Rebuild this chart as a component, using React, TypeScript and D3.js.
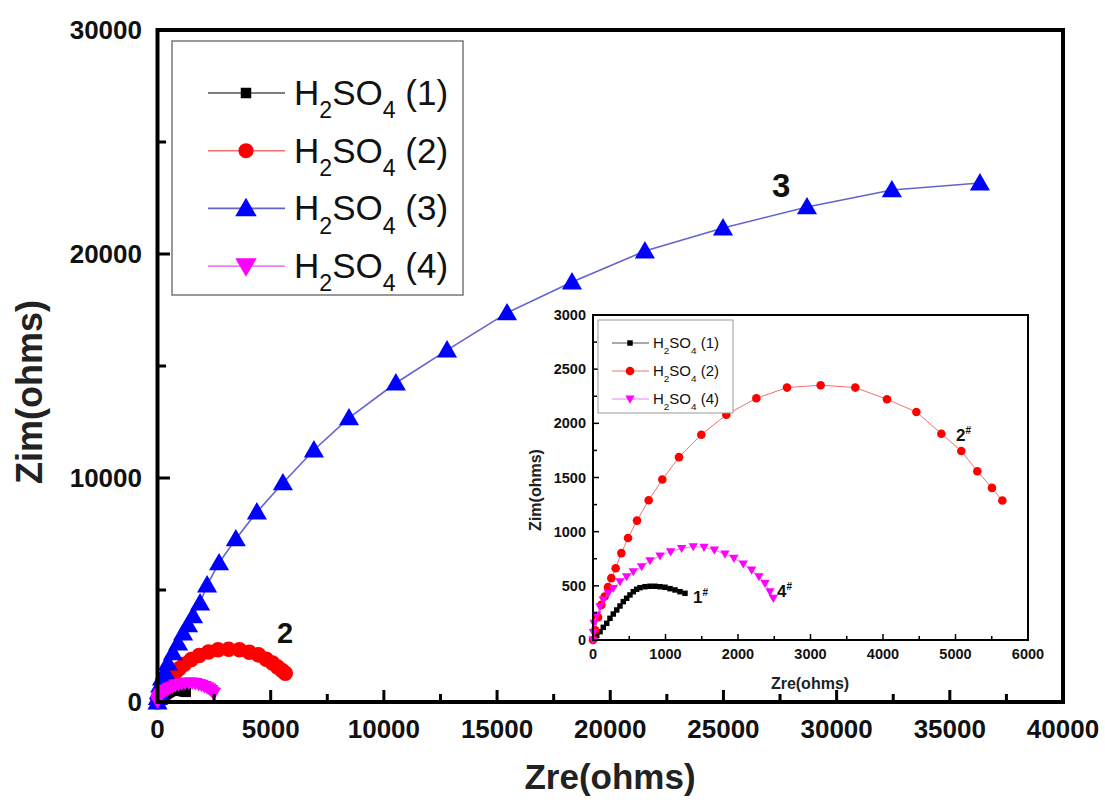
import React from "react";
import * as d3 from "d3";

// ---- data (ohms) ----
const s1X = [0, 14, 51, 97, 142, 189, 234, 280, 327, 372, 418, 464, 510, 556, 602, 648, 717, 786, 855, 924, 993, 1062, 1131, 1200, 1269];
const s1Y = [0, 9, 40, 77, 117, 154, 200, 240, 277, 314, 354, 385, 416, 446, 468, 483, 492, 496, 496, 492, 487, 474, 462, 446, 431];

const s2X = [0, 30, 70, 115, 161, 207, 253, 313, 391, 483, 607, 768, 956, 1186, 1494, 1839, 2253, 2676, 3140, 3618, 4055, 4460, 4805, 5080, 5301, 5503, 5646];
const s2Y = [0, 90, 210, 324, 401, 488, 571, 663, 802, 941, 1102, 1290, 1481, 1688, 1895, 2080, 2231, 2330, 2352, 2330, 2222, 2105, 1904, 1744, 1558, 1404, 1287];

const s3X = [0, 20, 60, 120, 200, 330, 460, 680, 910, 1130, 1350, 1570, 1880, 2190, 2720, 3460, 4390, 5540, 6910, 8460, 10530, 12790, 15440, 18310, 21530, 24980, 28690, 32440, 36330];
const s3Y = [0, 200, 450, 750, 1070, 1340, 1740, 2190, 2630, 3080, 3440, 3840, 4420, 5220, 6210, 7280, 8480, 9780, 11250, 12680, 14240, 15710, 17370, 18750, 20130, 21160, 22100, 22860, 23170];

const s4X = [0, 5, 14, 51, 97, 142, 211, 280, 372, 464, 556, 671, 786, 924, 1071, 1223, 1383, 1531, 1673, 1820, 1944, 2073, 2188, 2289, 2372, 2441, 2487];
const s4Y = [0, 70, 154, 231, 308, 369, 431, 477, 539, 585, 631, 677, 733, 776, 815, 846, 862, 856, 831, 794, 754, 702, 646, 585, 523, 446, 385];

const mainXTicks = [0, 5000, 10000, 15000, 20000, 25000, 30000, 35000, 40000];
const mainYTicks = [0, 10000, 20000, 30000];
const insetXTicks = [0, 1000, 2000, 3000, 4000, 5000, 6000];
const insetYTicks = [0, 500, 1000, 1500, 2000, 2500, 3000];

const seriesNames = ["(1)", "(2)", "(3)", "(4)"];

const FONT = "Arial, 'Liberation Sans', Helvetica, sans-serif";

type Ser = { xs: number[]; ys: number[]; kind: string; fill: string; line: string; mainSize: number; insetSize: number; name: string; inInset: boolean };

const series: Ser[] = [
  { xs: s1X, ys: s1Y, kind: "square", fill: "#000000", line: "#555555", mainSize: 90, insetSize: 30, name: seriesNames[0], inInset: true },
  { xs: s2X, ys: s2Y, kind: "circle", fill: "#ff0000", line: "#f07070", mainSize: 190, insetSize: 58, name: seriesNames[1], inInset: true },
  { xs: s3X, ys: s3Y, kind: "triangle", fill: "#0000ff", line: "#6363cf", mainSize: 175, insetSize: 50, name: seriesNames[2], inInset: false },
  { xs: s4X, ys: s4Y, kind: "tri-down", fill: "#ff00ff", line: "#f080f0", mainSize: 90, insetSize: 38, name: seriesNames[3], inInset: true },
];

function symPath(kind: string, size: number): string {
  const t = kind === "square" ? d3.symbolSquare : kind === "circle" ? d3.symbolCircle : d3.symbolTriangle;
  return d3.symbol().type(t).size(size)() as string;
}

function Marker({ kind, size, fill, x, y }: { kind: string; size: number; fill: string; x: number; y: number }) {
  const rot = kind === "tri-down" ? " rotate(180)" : "";
  const dy = kind === "triangle" ? Math.sqrt(size) * 0.12 : kind === "tri-down" ? -Math.sqrt(size) * 0.12 : 0;
  return <path d={symPath(kind, size)} transform={`translate(${x},${y + dy})${rot}`} fill={fill} />;
}

function H2SO4({ x, y, size, suffix }: { x: number; y: number; size: number; suffix: string }) {
  const sub = size * 0.66;
  const shift = size * 0.38;
  return (
    <text x={x} y={y} fontFamily={FONT} fontSize={size} fill="#111">
      H
      <tspan fontSize={sub} dy={shift}>2</tspan>
      <tspan dy={-shift}>SO</tspan>
      <tspan fontSize={sub} dy={shift}>4</tspan>
      <tspan dy={-shift}>{" " + suffix}</tspan>
    </text>
  );
}

export default function App() {
  // main scales
  const x = d3.scaleLinear().domain([0, 40000]).range([157.5, 1063]);
  const y = d3.scaleLinear().domain([0, 30000]).range([702, 30]);
  // inset scales
  const ix = d3.scaleLinear().domain([0, 6000]).range([593, 1028]);
  const iy = d3.scaleLinear().domain([0, 3000]).range([640, 315]);

  const mainXMinor = d3.range(2500, 40000, 5000);
  const mainYMinor = d3.range(5000, 30000, 10000);
  const insetXMinor = d3.range(500, 6000, 1000);
  const insetYMinor = d3.range(250, 3000, 500);

  const lineGen = (sx: d3.ScaleLinear<number, number>, sy: d3.ScaleLinear<number, number>, s: Ser) =>
    d3.line<number>().x((_, i) => sx(s.xs[i])).y((_, i) => sy(s.ys[i]))(s.xs) as string;

  const insetSeries = series.filter((s) => s.inInset);

  return (
    <svg width={1105} height={802} style={{ position: "absolute", left: 0, top: 0, background: "#fff" }}>
      <rect x={0} y={0} width={1105} height={802} fill="#fff" />

      {/* main data */}
      {series.map((s, k) => (
        <g key={"m" + k}>
          <path d={lineGen(x, y, s)} fill="none" stroke={s.line} strokeWidth={1.6} />
          {s.xs.map((v, i) => (
            <Marker key={i} kind={s.kind} size={s.mainSize} fill={s.fill} x={x(v)} y={y(s.ys[i])} />
          ))}
        </g>
      ))}

      {/* main frame */}
      <rect x={157.5} y={30} width={1063 - 157.5} height={672} fill="none" stroke="#000" strokeWidth={4} />

      {/* main ticks */}
      {mainXTicks.map((t) => (
        <g key={"mx" + t}>
          <line x1={x(t)} x2={x(t)} y1={702} y2={690} stroke="#000" strokeWidth={3} />
          <text x={x(t)} y={738} textAnchor="middle" fontFamily={FONT} fontWeight="bold" fontSize={26} fill="#111">{t}</text>
        </g>
      ))}
      {mainXMinor.map((t) => (
        <line key={"mxm" + t} x1={x(t)} x2={x(t)} y1={702} y2={694} stroke="#000" strokeWidth={3} />
      ))}
      {mainYTicks.map((t) => (
        <g key={"my" + t}>
          <line x1={157.5} x2={170} y1={y(t)} y2={y(t)} stroke="#000" strokeWidth={3} />
          <text x={142} y={y(t) + 9} textAnchor="end" fontFamily={FONT} fontWeight="bold" fontSize={26} fill="#111">{t}</text>
        </g>
      ))}
      {mainYMinor.map((t) => (
        <line key={"mym" + t} x1={157.5} x2={166} y1={y(t)} y2={y(t)} stroke="#000" strokeWidth={3} />
      ))}

      {/* main titles */}
      <text x={610} y={789} textAnchor="middle" fontFamily={FONT} fontWeight="bold" fontSize={35} fill="#222">Zre(ohms)</text>
      <text transform="translate(42,392) rotate(-90)" textAnchor="middle" fontFamily={FONT} fontWeight="bold" fontSize={36} fill="#222">Zim(ohms)</text>

      {/* curve labels */}
      <text x={772} y={197} fontFamily={FONT} fontWeight="bold" fontSize={33} fill="#111">3</text>
      <text x={277} y={643} fontFamily={FONT} fontWeight="bold" fontSize={29} fill="#111">2</text>

      {/* main legend */}
      <rect x={172} y={41} width={291} height={254} fill="#fff" stroke="#777" strokeWidth={1.5} />
      {series.map((s, k) => {
        const cy = 93 + k * 57.7;
        return (
          <g key={"lg" + k}>
            <line x1={208} x2={285} y1={cy} y2={cy} stroke={s.line} strokeWidth={1.6} />
            <Marker kind={s.kind} size={s.kind === "square" ? 110 : s.kind === "circle" ? 180 : 200} fill={s.fill} x={246} y={cy} />
            <H2SO4 x={294} y={cy + 12} size={35} suffix={s.name} />
          </g>
        );
      })}

      {/* inset */}
      <rect x={593} y={315} width={1028 - 593} height={325} fill="#fff" stroke="none" />
      {insetSeries.map((s, k) => (
        <g key={"i" + k}>
          <path d={lineGen(ix, iy, s)} fill="none" stroke={s.line} strokeWidth={1} />
          {s.xs.map((v, i) => (
            <Marker key={i} kind={s.kind} size={s.insetSize} fill={s.fill} x={ix(v)} y={iy(s.ys[i])} />
          ))}
        </g>
      ))}
      <rect x={593} y={315} width={1028 - 593} height={325} fill="none" stroke="#000" strokeWidth={2} />
      {insetXTicks.map((t) => (
        <g key={"ix" + t}>
          <line x1={ix(t)} x2={ix(t)} y1={640} y2={634} stroke="#000" strokeWidth={1.5} />
          <text x={ix(t)} y={659} textAnchor="middle" fontFamily={FONT} fontWeight="bold" fontSize={14.5} fill="#111">{t}</text>
        </g>
      ))}
      {insetXMinor.map((t) => (
        <line key={"ixm" + t} x1={ix(t)} x2={ix(t)} y1={640} y2={636} stroke="#000" strokeWidth={1.5} />
      ))}
      {insetYTicks.map((t) => (
        <g key={"iy" + t}>
          <line x1={593} x2={599} y1={iy(t)} y2={iy(t)} stroke="#000" strokeWidth={1.5} />
          <text x={586} y={iy(t) + 5} textAnchor="end" fontFamily={FONT} fontWeight="bold" fontSize={14.5} fill="#111">{t}</text>
        </g>
      ))}
      {insetYMinor.map((t) => (
        <line key={"iym" + t} x1={593} x2={597} y1={iy(t)} y2={iy(t)} stroke="#000" strokeWidth={1.5} />
      ))}
      <text x={810} y={689} textAnchor="middle" fontFamily={FONT} fontWeight="bold" fontSize={16} fill="#222">Zre(ohms)</text>
      <text transform="translate(541,490) rotate(-90)" textAnchor="middle" fontFamily={FONT} fontWeight="bold" fontSize={16} fill="#222">Zim(ohms)</text>

      {/* inset curve labels */}
      <text x={956} y={441} fontFamily={FONT} fontWeight="bold" fontSize={17} fill="#111">2<tspan fontSize={10} dy={-7}>#</tspan></text>
      <text x={693} y={603} fontFamily={FONT} fontWeight="bold" fontSize={17} fill="#111">1<tspan fontSize={10} dy={-7}>#</tspan></text>
      <text x={777} y={597} fontFamily={FONT} fontWeight="bold" fontSize={17} fill="#111">4<tspan fontSize={10} dy={-7}>#</tspan></text>

      {/* inset legend */}
      <rect x={598} y={320} width={135} height={93} fill="#fff" stroke="#999" strokeWidth={1} />
      {insetSeries.map((s, k) => {
        const cy = 343 + k * 28;
        return (
          <g key={"ilg" + k}>
            <line x1={612} x2={649} y1={cy} y2={cy} stroke={s.line} strokeWidth={1} />
            <Marker kind={s.kind} size={s.insetSize} fill={s.fill} x={630} y={cy} />
            <H2SO4 x={653} y={cy + 5} size={15} suffix={s.name} />
          </g>
        );
      })}
    </svg>
  );
}
